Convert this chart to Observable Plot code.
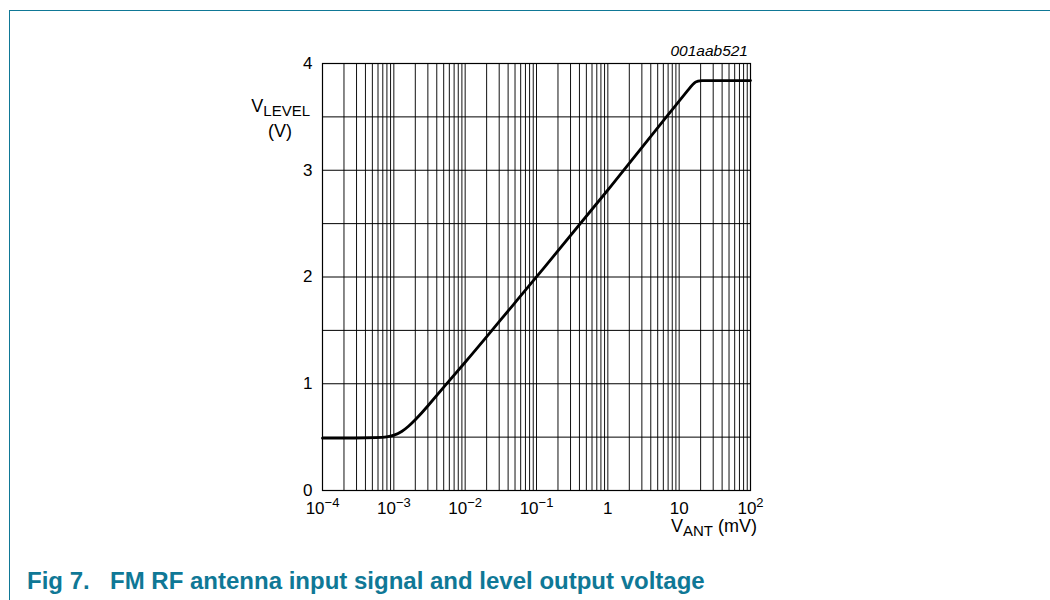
<!DOCTYPE html>
<html>
<head>
<meta charset="utf-8">
<script src="https://cdn.jsdelivr.net/npm/d3@7"></script>
<script src="https://cdn.jsdelivr.net/npm/@observablehq/plot@0.6"></script>
<style>
  html, body { margin: 0; padding: 0; background: #fff; }
  #wrap { position: relative; width: 1050px; height: 600px; overflow: hidden; font-family: Arial, "Liberation Sans", Helvetica, sans-serif; }
  #frame { position: absolute; left: 9px; top: 10px; width: 1050px; height: 590px; border-top: 1.3px solid #0f7896; border-left: 1.3px solid #0f7896; box-sizing: border-box; }
  #chart { position: absolute; left: 0; top: 0; }
  #caption { position: absolute; left: 27px; top: 568px; font-weight: bold; font-size: 24px; color: #0f7896; white-space: nowrap; line-height: 26px; }
  #caption .t { position: absolute; left: 83px; top: 0; }
</style>
</head>
<body>
<div id="wrap">
  <div id="frame"></div>
  <div id="chart"></div>
  <div id="caption"><span>Fig 7.</span><span class="t">FM RF antenna input signal and level output voltage</span></div>
</div>
<script>
// Curve: antenna voltage (mV) vs level output voltage (V)
const vAnt   = [1e-4, 3e-4, 6e-4, 8e-4, 1e-3, 1.3e-3, 1.6e-3, 2e-3, 3e-3, 5e-3, 1e-2, 2e-2, 5e-2, 1e-1, 1, 10, 14, 17, 20, 30, 100];
const vLevel = [0.49, 0.49, 0.495, 0.50, 0.515, 0.55, 0.60, 0.66, 0.79, 0.97, 1.20, 1.44, 1.76, 2.00, 2.81, 3.65, 3.77, 3.835, 3.84, 3.84, 3.84];

// Axis ticks / labels
const xTicks = [1e-4, 1e-3, 1e-2, 1e-1, 1, 10, 100];
const xTickLabels = ["10^−4", "10^−3", "10^−2", "10^−1", "1", "10", "10^2"];
const yTicks = [0, 1, 2, 3, 4];
const yTickLabels = ["0", "1", "2", "3", "4"];
const yGrid = [0, 0.5, 1, 1.5, 2, 2.5, 3, 3.5, 4];
const decades = [-4, -3, -2, -1, 0, 1];
const multipliers = [1, 2, 3, 4, 5, 6, 7, 8, 9];
const xGrid = decades.flatMap(d => multipliers.map(m => +(m * Math.pow(10, d)).toPrecision(3))).concat([100]);

const data = vAnt.map((x, i) => ({x, y: vLevel[i]}));

const FONT = "Arial, 'Liberation Sans', sans-serif";
const W = 1050, H = 545;
const chart = Plot.plot({
  width: W,
  height: H,
  marginLeft: 322,
  marginRight: 300,
  marginTop: 63,
  marginBottom: H - 490,
  style: {fontFamily: FONT, fontSize: "17px", color: "#000", background: "transparent"},
  x: {type: "log", domain: [1e-4, 100]},
  y: {domain: [0, 4]},
  marks: [
    Plot.gridX(xGrid, {stroke: "#111", strokeOpacity: 1, strokeWidth: 1}),
    Plot.gridY(yGrid, {stroke: "#000", strokeOpacity: 1, strokeWidth: 1}),
    Plot.frame({stroke: "#000", strokeWidth: 1.2}),
    Plot.axisY(yTicks, {tickSize: 0, tickPadding: 10, label: null, fontSize: 17,
      tickFormat: d => yTickLabels[yTicks.indexOf(d)]}),
    Plot.axisX(xTicks, {tickSize: 0, tickPadding: 11, label: null, fontSize: 17,
      tickFormat: d => xTickLabels[xTicks.indexOf(d)]}),
    Plot.line(data, {x: "x", y: "y", curve: "basis", stroke: "#000", strokeWidth: 2.8, strokeLinejoin: "round"})
  ]
});
document.getElementById("chart").appendChild(chart);

const svg = d3.select(chart);
svg.selectAll('[aria-label="x-axis tick label"], [aria-label="y-axis tick label"]').attr("font-size", 17);
svg.selectAll('[aria-label="x-axis tick label"] text, [aria-label="y-axis tick label"] text').attr("font-size", 17);
// superscripts in x tick labels
svg.selectAll('[aria-label="x-axis tick label"] text').each(function() {
  const t = d3.select(this);
  const s = t.text();
  if (s.includes("^")) {
    const [base, exp] = s.split("^");
    t.text(null);
    t.append("tspan").text(base);
    t.append("tspan").attr("font-size", "13px").attr("dy", "-0.5em").text(exp);
  }
});

// axis titles
const yl = svg.append("text").attr("x", 310).attr("y", 112).attr("text-anchor", "end")
  .attr("font-family", FONT).attr("font-size", 18).attr("fill", "#000");
yl.append("tspan").text("V");
yl.append("tspan").attr("font-size", 15).attr("dy", 4).text("LEVEL");
svg.append("text").attr("x", 280).attr("y", 137).attr("text-anchor", "middle")
  .attr("font-family", FONT).attr("font-size", 18).text("(V)");

const xl = svg.append("text").attr("x", 757).attr("y", 532).attr("text-anchor", "end")
  .attr("font-family", FONT).attr("font-size", 18).attr("fill", "#000");
xl.append("tspan").text("V");
xl.append("tspan").attr("font-size", 15).attr("dy", 4).text("ANT");
xl.append("tspan").attr("dy", -4).text(" (mV)");

svg.append("text").attr("x", 748).attr("y", 56).attr("text-anchor", "end")
  .attr("font-family", FONT).attr("font-size", 15.5)
  .attr("font-style", "italic").text("001aab521");
</script>
</body>
</html>
